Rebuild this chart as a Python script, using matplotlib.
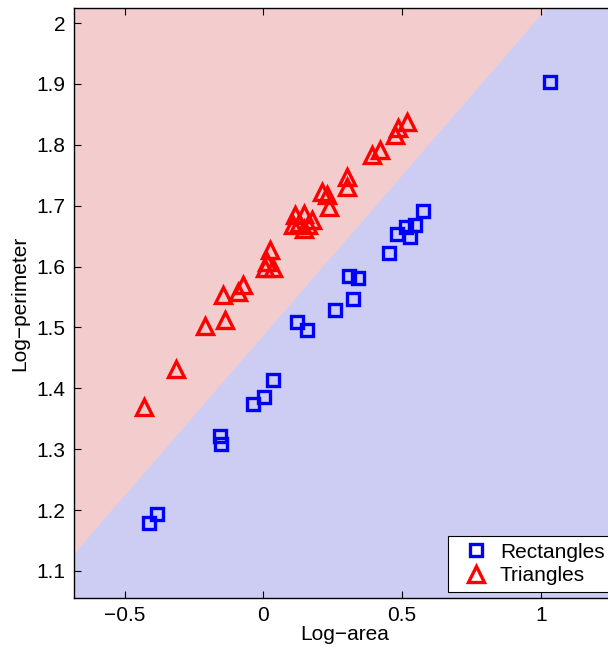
import numpy as np
import matplotlib
matplotlib.use("Agg")
import matplotlib.pyplot as plt

plt.rcParams['font.family'] = ['Liberation Sans', 'DejaVu Sans']

# log-area / log-perimeter of each shape
rect_x = [-0.412, -0.384, -0.156, -0.153, -0.036, 0.003, 0.034, 0.120, 0.159, 0.258,
          0.310, 0.342, 0.322, 0.454, 0.483, 0.528, 0.514, 0.547, 0.577, 1.033]
rect_y = [1.179, 1.194, 1.322, 1.308, 1.375, 1.385, 1.414, 1.509, 1.496, 1.529,
          1.584, 1.582, 1.547, 1.622, 1.654, 1.649, 1.665, 1.668, 1.692, 1.903]

tri_x = [-0.430, -0.315, -0.209, -0.138, -0.146, -0.091, -0.072, 0.026, 0.015, 0.005,
         0.035, 0.114, 0.145, 0.174, 0.145, 0.108, 0.160, 0.130, 0.212, 0.230,
         0.236, 0.300, 0.303, 0.391, 0.421, 0.475, 0.486, 0.517]
tri_y = [1.369, 1.432, 1.503, 1.512, 1.553, 1.558, 1.569, 1.627, 1.608, 1.597,
         1.598, 1.684, 1.687, 1.676, 1.662, 1.668, 1.668, 1.672, 1.722, 1.718,
         1.697, 1.747, 1.730, 1.783, 1.791, 1.816, 1.827, 1.838]

# linear decision boundary: y = b0 + b1 * x
b0, b1 = 1.4883, 0.526

xlim = (-0.682, 1.27)
ylim = (1.0556, 2.025)

fig = plt.figure(figsize=(6.08, 6.5), dpi=100)
ax = fig.add_axes([0.1217, 0.08, 0.891, 0.908])

xs = np.linspace(xlim[0], xlim[1], 200)
boundary = b0 + b1 * xs
ax.fill_between(xs, ylim[0], boundary, color='#CDCDF3', lw=0, zorder=0)
ax.fill_between(xs, boundary, ylim[1], color='#F3CDCD', lw=0, zorder=0)

ax.plot(rect_x, rect_y, 's', ms=8.5, mfc='none', mec='#0000FF', mew=2.4,
        label='Rectangles', zorder=3)
ax.plot(tri_x, tri_y, '^', ms=12, mfc='none', mec='#FF0000', mew=2.4,
        label='Triangles', zorder=3)

ax.set_xlim(xlim)
ax.set_ylim(ylim)
ax.set_xticks([-0.5, 0, 0.5, 1])
ax.set_xticklabels(['\u22120.5', '0', '0.5', '1'])
ax.set_yticks([1.1, 1.2, 1.3, 1.4, 1.5, 1.6, 1.7, 1.8, 1.9, 2])
ax.set_yticklabels(['1.1', '1.2', '1.3', '1.4', '1.5', '1.6', '1.7', '1.8', '1.9', '2'])
ax.tick_params(direction='in', length=5, width=0.8, top=True, right=True,
               labelsize=15, pad=6)
for s in ax.spines.values():
    s.set_linewidth(1.0)

ax.set_xlabel('Log\u2212area', fontsize=15, labelpad=0)
ax.set_ylabel('Log\u2212perimeter', fontsize=15, labelpad=5)

leg = ax.legend(loc='lower left', bbox_to_anchor=(0.691, 0.0107), fancybox=False,
                framealpha=1, edgecolor='black', fontsize=15, borderpad=0.33,
                handlelength=2.0, handletextpad=0.15, labelspacing=0.2,
                borderaxespad=0)
leg.get_frame().set_linewidth(0.8)

fig.savefig('out.png', dpi=100)
